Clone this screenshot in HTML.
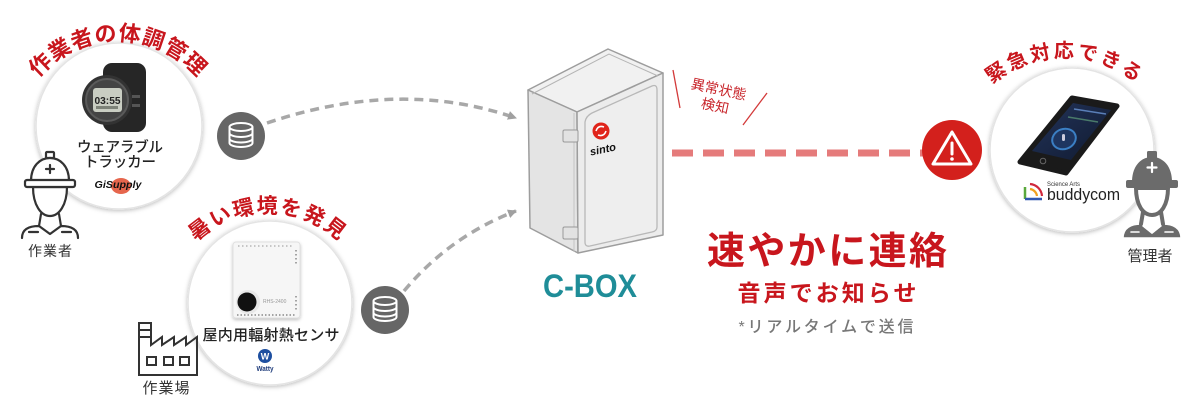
<!DOCTYPE html>
<html><head><meta charset="utf-8">
<style>
html,body{margin:0;padding:0;background:#fff;}
body{width:1200px;height:400px;overflow:hidden;}
svg{display:block;font-family:"Liberation Sans","Noto Sans CJK JP",sans-serif;}
</style></head>
<body>
<svg width="1200" height="400" viewBox="0 0 1200 400" xmlns="http://www.w3.org/2000/svg">
<defs>
  <filter id="sh" x="-20%" y="-20%" width="140%" height="140%">
    <feDropShadow dx="0" dy="1" stdDeviation="2.5" flood-color="#000" flood-opacity="0.28"/>
  </filter>
  <filter id="sh2" x="-20%" y="-20%" width="140%" height="140%">
    <feDropShadow dx="0" dy="1.5" stdDeviation="1.5" flood-color="#000" flood-opacity="0.25"/>
  </filter>
  <marker id="ah" markerWidth="10" markerHeight="10" refX="8" refY="5" orient="auto" markerUnits="userSpaceOnUse">
    <path d="M0,0.5 L9,5 L0,9.5 z" fill="#a0a0a0"/>
  </marker>
  <path id="arc1" d="M23.7,101 A104,104 0 0,1 212.3,101"/>
  <path id="arc2" d="M173.7,273 A104,104 0 0,1 362.3,273"/>
  <path id="arc3" d="M965.2,117.6 A113,113 0 0,1 1164.8,117.6"/>
  <linearGradient id="scr" x1="0" y1="0" x2="1" y2="1">
    <stop offset="0" stop-color="#23345a"/><stop offset="1" stop-color="#101a30"/>
  </linearGradient>
</defs>

<!-- big circles -->
<circle cx="119" cy="126" r="83" fill="#fff" stroke="#e4e4e4" stroke-width="1.5" filter="url(#sh)"/>
<circle cx="270" cy="303" r="82" fill="#fff" stroke="#e4e4e4" stroke-width="1.5" filter="url(#sh)"/>
<circle cx="1072" cy="150" r="82" fill="#fff" stroke="#e4e4e4" stroke-width="1.5" filter="url(#sh)"/>

<!-- arc titles -->
<text font-size="22" font-weight="700" fill="#c8161d" letter-spacing="0.7"><textPath href="#arc1" startOffset="50%" text-anchor="middle">作業者の体調管理</textPath></text>
<text font-size="21" font-weight="700" fill="#c8161d" letter-spacing="1.7"><textPath href="#arc2" startOffset="50%" text-anchor="middle">暑い環境を発見</textPath></text>
<text font-size="20" font-weight="700" fill="#c8161d" letter-spacing="2.7"><textPath href="#arc3" startOffset="50%" text-anchor="middle">緊急対応できる</textPath></text>

<!-- watch -->
<g>
  <rect x="103" y="63" width="43" height="69" rx="9" fill="#262626"/>
  <rect x="132" y="95" width="8" height="3" fill="#555"/>
  <rect x="132" y="104" width="8" height="3" fill="#555"/>
  <circle cx="107" cy="100" r="25" fill="#333"/>
  <circle cx="107" cy="100" r="21" fill="#444" stroke="#5a5a5a" stroke-width="2"/>
  <rect x="93" y="88" width="29" height="24" rx="3" fill="#c9cdc2"/>
  <text x="107.5" y="104" font-size="10" font-weight="700" fill="#222" text-anchor="middle" textLength="26" lengthAdjust="spacingAndGlyphs">03:55</text>
  <rect x="96" y="106" width="22" height="3" fill="#7d8278"/>
</g>
<text x="120" y="152" font-size="14.5" font-weight="500" fill="#222" text-anchor="middle" textLength="86">ウェアラブル</text>
<text x="120" y="167" font-size="14.5" font-weight="500" fill="#222" text-anchor="middle" textLength="72">トラッカー</text>
<ellipse cx="121" cy="186" rx="10" ry="8" fill="#e24b2e" opacity="0.85"/>
<text x="118" y="188" font-size="10" font-weight="700" font-style="italic" fill="#111" text-anchor="middle" textLength="47" lengthAdjust="spacingAndGlyphs">GiSupply</text>

<!-- worker icon -->
<g fill="#fff" stroke="#333" stroke-width="2.2" stroke-linejoin="round" stroke-linecap="round">
  <path d="M22,238 C22,229 29,226 39,226 L50,234 L61,226 C71,226 78,229 78,238"/>
  <path d="M41,214 L39,226 M59,214 L61,226" fill="none"/>
  <path d="M33,187 C33,205 41,216 50,216 C59,216 67,205 67,187 Z"/>
  <rect x="46" y="152" width="8" height="6" rx="1"/>
  <path d="M31,181 C31,166 40,158 50,158 C60,158 69,166 69,181 Z"/>
  <rect x="25" y="180" width="50" height="7" rx="2"/>
  <path d="M50,165 v8 M46,169 h8" fill="none"/>
  <path d="M29,232 h9 M62,232 h9" fill="none"/>
</g>
<text x="50" y="256" font-size="14" fill="#333" text-anchor="middle" textLength="44">作業者</text>

<!-- sensor -->
<g filter="url(#sh2)">
  <rect x="233" y="242" width="67" height="76" rx="3" fill="#f6f6f6" stroke="#e0e0e0" stroke-width="1"/>
</g>
<line x1="238" y1="246" x2="292" y2="246" stroke="#aaa" stroke-width="1.2" stroke-dasharray="1.5 2.5"/>
<line x1="237" y1="315" x2="296" y2="315" stroke="#888" stroke-width="1.5" stroke-dasharray="1.5 2"/>
<line x1="296" y1="250" x2="296" y2="264" stroke="#888" stroke-width="1.5" stroke-dasharray="1.5 2.5"/>
<line x1="296" y1="296" x2="296" y2="310" stroke="#888" stroke-width="1.5" stroke-dasharray="1.5 2.5"/>
<circle cx="248" cy="302" r="12" fill="#e8e8e8"/>
<circle cx="247" cy="302" r="9.5" fill="#111"/>
<text x="263" y="303" font-size="5" fill="#999">RHS-2400</text>
<text x="271" y="340" font-size="15" font-weight="500" fill="#222" text-anchor="middle" textLength="137">屋内用輻射熱センサ</text>
<circle cx="265" cy="356" r="7" fill="#1d4fa0"/>
<text x="265" y="359.5" font-size="9" font-weight="700" fill="#fff" text-anchor="middle">W</text>
<text x="265" y="371" font-size="7" font-weight="700" fill="#1d3a7a" text-anchor="middle" textLength="17" lengthAdjust="spacingAndGlyphs">Watty</text>

<!-- factory -->
<g fill="none" stroke="#333" stroke-width="2" stroke-linejoin="miter">
  <path d="M139,375 V323 H151 V345 L162,337 V345 L174,337 V345 L186,337 V345 L197,337 V375 Z"/>
  <path d="M139,330 H151 M139,337 H151"/>
  <rect x="147" y="357" width="9" height="8"/>
  <rect x="164" y="357" width="9" height="8"/>
  <rect x="180" y="357" width="9" height="8"/>
</g>
<text x="166" y="393" font-size="15" fill="#333" text-anchor="middle" textLength="47">作業場</text>

<!-- DB icons -->
<g>
  <circle cx="241" cy="136" r="24" fill="#666"/>
  <g fill="none" stroke="#fff" stroke-width="2">
    <ellipse cx="241" cy="127" rx="11.5" ry="4"/>
    <path d="M229.5,127 V143 A11.5,4 0 0,0 252.5,143 V127"/>
    <path d="M229.5,133 A11.5,4 0 0,0 252.5,133"/>
    <path d="M229.5,138.5 A11.5,4 0 0,0 252.5,138.5"/>
  </g>
</g>
<g>
  <circle cx="385" cy="310" r="24" fill="#666"/>
  <g fill="none" stroke="#fff" stroke-width="2">
    <ellipse cx="385" cy="301" rx="11.5" ry="4"/>
    <path d="M373.5,301 V317 A11.5,4 0 0,0 396.5,317 V301"/>
    <path d="M373.5,307 A11.5,4 0 0,0 396.5,307"/>
    <path d="M373.5,312.5 A11.5,4 0 0,0 396.5,312.5"/>
  </g>
</g>

<!-- grey dashed arrows -->
<path d="M267,123 Q400,78 516,118" fill="none" stroke="#a8a8a8" stroke-width="3.5" stroke-dasharray="9 6" marker-end="url(#ah)"/>
<path d="M404,291 Q450,236 516,211" fill="none" stroke="#a8a8a8" stroke-width="3.5" stroke-dasharray="9 6" marker-end="url(#ah)"/>

<!-- C-BOX -->
<g stroke="#9d9d9d" stroke-width="1.5" stroke-linejoin="round">
  <path d="M528,90 L608,49 L663,73 L577,112 Z" fill="#f1f1f1"/>
  <path d="M528,90 L577,112 L578,253 L530,228 Z" fill="#e4e4e4"/>
  <path d="M577,112 L663,73 L663,235 L578,253 Z" fill="#ececec"/>
</g>
<path d="M532,94 L609,54 L658,76" fill="none" stroke="#b5b5b5" stroke-width="1"/>
<path d="M585,122 Q586,116 592,113 L652,86 Q657,84 657,90 L657,227 Q657,231 652,232 L590,246 Q585,247 585,242 Z" fill="#eeeeee" stroke="#b8b8b8" stroke-width="1.3"/>
<path d="M574,113 L574,252" stroke="#c4c4c4" stroke-width="1"/>
<rect x="563" y="130" width="15" height="12" rx="1.5" fill="#e2e2e2" stroke="#999" stroke-width="1"/>
<rect x="563" y="227" width="15" height="12" rx="1.5" fill="#e2e2e2" stroke="#999" stroke-width="1"/>
<circle cx="601" cy="131" r="8.5" fill="#e0241b"/>
<path d="M596,131 Q598,125 604,127 M606,131 Q604,137 598,135" stroke="#fff" stroke-width="1.6" fill="none"/>
<text x="603" y="153" font-size="11" font-weight="700" font-style="italic" fill="#111" text-anchor="middle" transform="rotate(-12 603 150)">sinto</text>
<text x="590" y="297" font-size="32" font-weight="700" fill="#1f8d98" text-anchor="middle" textLength="94" lengthAdjust="spacingAndGlyphs">C-BOX</text>

<!-- anomaly label -->
<line x1="673" y1="70" x2="680" y2="108" stroke="#d33a3a" stroke-width="1.3"/>
<line x1="767" y1="93" x2="743" y2="125" stroke="#d33a3a" stroke-width="1.3"/>
<g transform="translate(717,97) rotate(12)" fill="#c8252b" font-size="14" text-anchor="middle">
  <text x="0" y="-3">異常状態</text>
  <text x="0" y="14">検知</text>
</g>

<!-- red dashed line -->
<line x1="672" y1="153" x2="924" y2="153" stroke="#e57b7b" stroke-width="7" stroke-dasharray="21 10"/>

<!-- alert -->
<circle cx="952" cy="150" r="30" fill="#d3201c"/>
<path d="M952,132 L933,164 L971,164 Z" fill="none" stroke="#fff" stroke-width="3" stroke-linejoin="round"/>
<line x1="952" y1="143" x2="952" y2="154" stroke="#fff" stroke-width="3" stroke-linecap="round"/>
<circle cx="952" cy="159" r="1.8" fill="#fff"/>

<!-- center texts -->
<text x="827" y="264" font-size="38" font-weight="700" fill="#c8161d" text-anchor="middle" textLength="240">速やかに連絡</text>
<text x="827" y="301" font-size="23" font-weight="700" fill="#c8161d" text-anchor="middle" textLength="179">音声でお知らせ</text>
<text x="826" y="332" font-size="16" font-weight="500" fill="#777" text-anchor="middle" textLength="175">*リアルタイムで送信</text>

<!-- phone -->
<path d="M1072,98 L1117,106 L1066,173 L1020,162 Z" fill="#1a1a1a" stroke="#1a1a1a" stroke-width="5" stroke-linejoin="round"/>
<path d="M1073,103 L1111,110 L1071,160 L1032,151 Z" fill="url(#scr)"/>
<line x1="1074" y1="109" x2="1106" y2="114" stroke="#5a7fb8" stroke-width="1.5"/>
<line x1="1068" y1="117" x2="1098" y2="122" stroke="#4a7a6a" stroke-width="1.5"/>
<ellipse cx="1064" cy="139" rx="12" ry="10" fill="#1e3560" stroke="#3b7fc4" stroke-width="2" transform="rotate(-20 1064 139)"/>
<rect x="1062" y="134" width="3" height="7" rx="1.5" fill="#ccd"/>
<circle cx="1043" cy="161" r="2.8" fill="none" stroke="#666" stroke-width="1"/>

<!-- buddycom -->
<path d="M1025,187 V199" stroke="#5aa83c" stroke-width="2.5" fill="none"/>
<path d="M1025,199 H1042" stroke="#2f56b0" stroke-width="2.5" fill="none"/>
<path d="M1030,184 A13,13 0 0,1 1042,196" stroke="#d0283c" stroke-width="2.2" fill="none"/>
<path d="M1030,189 A8,8 0 0,1 1037,196" stroke="#f0a020" stroke-width="2.2" fill="none"/>
<text x="1047" y="186" font-size="6" fill="#333" textLength="33" lengthAdjust="spacingAndGlyphs">Science Arts</text>
<text x="1047" y="200" font-size="17" fill="#222" textLength="73" lengthAdjust="spacingAndGlyphs">buddycom</text>

<!-- manager icon -->
<g transform="translate(1102,0)" stroke-linejoin="round" stroke-linecap="round">
  <path d="M21,238 C21,228 29,224 39,224 L50,233 L61,224 C71,224 79,228 79,238 Z" fill="#6b6b6b" stroke="#fff" stroke-width="1.5"/>
  <path d="M40,225 L50,233 L60,225" fill="none" stroke="#fff" stroke-width="1.6"/>
  <path d="M29,232 h8 M63,232 h8" stroke="#fff" stroke-width="1.6"/>
  <path d="M41,212 L39,224 M59,212 L61,224" fill="none" stroke="#6b6b6b" stroke-width="4"/>
  <path d="M34,188 C34,205 41,215 50,215 C59,215 66,205 66,188 Z" fill="#fff" stroke="#6b6b6b" stroke-width="4"/>
  <rect x="45" y="151" width="10" height="8" rx="1.5" fill="#6b6b6b"/>
  <path d="M30,182 C30,166 39,157 50,157 C61,157 70,166 70,182 Z" fill="#6b6b6b"/>
  <rect x="24" y="180" width="52" height="8" rx="2" fill="#6b6b6b"/>
  <path d="M50,163 v9 M45.5,167.5 h9" stroke="#fff" stroke-width="2.2"/>
</g>
<text x="1150" y="261" font-size="15" fill="#333" text-anchor="middle" textLength="45">管理者</text>
</svg>
</body></html>
